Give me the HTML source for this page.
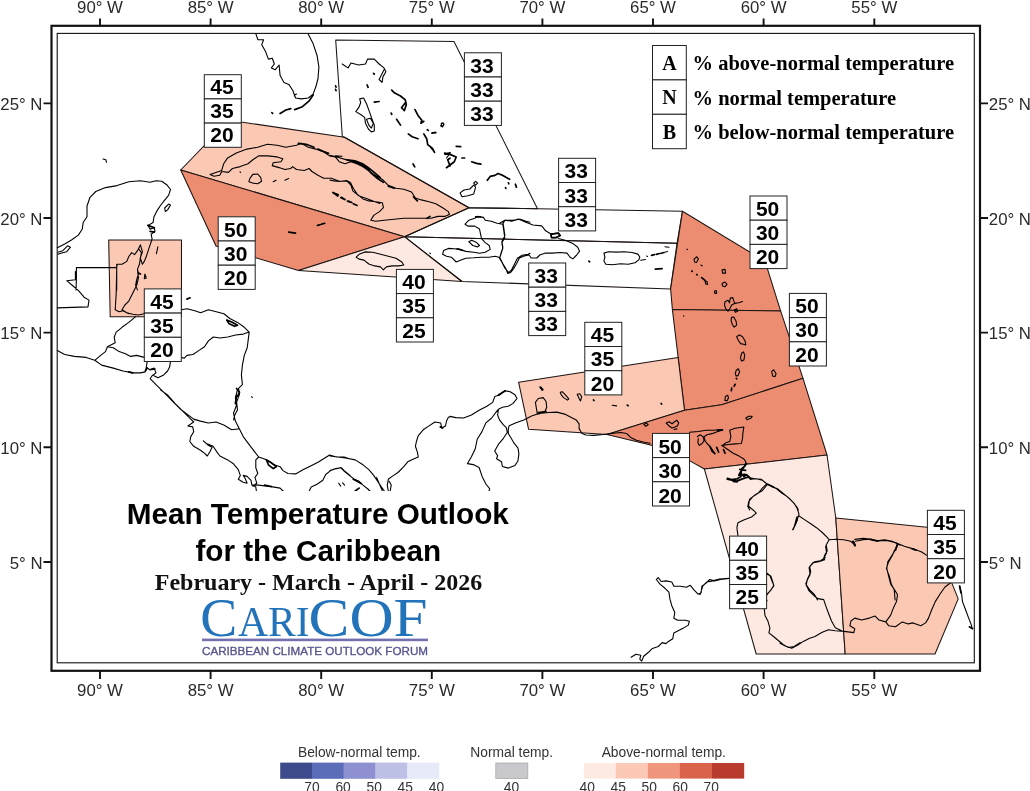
<!DOCTYPE html><html><head><meta charset="utf-8"><title>Mean Temperature Outlook for the Caribbean</title>
<style>html,body{margin:0;padding:0;background:#fff}svg{display:block}text{font-family:"Liberation Sans",Arial,sans-serif}.sl{font-family:"Liberation Serif","Times New Roman",serif;font-weight:normal;fill:#2273B9}.s{font-family:"Liberation Serif","Times New Roman",serif;font-weight:bold}.ax{font-size:16.8px;fill:#2a2a2a}.n{font-size:21px;font-weight:bold;text-anchor:middle;fill:#000}.lg{font-size:13.8px;fill:#333}.c{fill:none;stroke:#000;stroke-width:1.1;stroke-linejoin:round;stroke-linecap:round}.p{stroke:#1c1412;stroke-width:1.05;stroke-linejoin:round}.b{fill:#fff;stroke:#222;stroke-width:1}</style></head><body>
<svg width="1030" height="791" viewBox="0 0 1030 791">
<rect width="1030" height="791" fill="#fff"/>
<polygon class="p" fill="#FBC8B4" points="180.7,170.0 229.0,120.2 344.5,137.3 469.0,207.7 404.5,236.7"/>
<polygon class="p" fill="#EC8D71" points="180.7,170.0 404.5,236.7 298.5,270.5 216.0,246.0"/>
<polygon class="p" fill="#FDE9E1" points="404.5,236.7 462.0,281.5 298.5,270.5"/>
<polygon class="p" fill="#FBC8B4" points="108.7,240.0 181.5,240.0 181.5,316.7 110.2,316.7"/>
<polygon class="p" fill="none" points="335.7,40.1 454.0,41.4 537.5,208.8 469.0,207.7 344.5,137.3 342.3,136.5"/>
<polygon class="p" fill="none" points="469.0,207.7 537.5,208.8 682.5,211.2 677.0,243.3 404.5,236.7"/>
<polygon class="p" fill="none" points="404.5,236.7 677.0,243.3 670.6,288.9 462.0,281.5"/>
<polygon class="p" fill="#EC8D71" points="682.5,211.2 765.1,261.3 780.6,310.9 672.4,309.6 670.6,288.9"/>
<polygon class="p" fill="#EC8D71" points="672.4,309.6 780.6,310.9 803.0,378.3 721.6,404.7 684.5,410.3"/>
<polygon class="p" fill="#FBC8B4" points="518.6,382.2 678.1,357.4 684.5,410.3 607.0,434.5 528.6,429.3"/>
<polygon class="p" fill="#EC8D71" points="607.0,434.5 684.5,410.3 721.6,404.7 803.0,378.3 827.0,455.0 704.4,469.0 689.5,460.6 652.5,445.5"/>
<polygon class="p" fill="#FDE9E1" points="704.4,469.0 827.0,455.0 835.8,518.0 845.2,654.0 756.2,654.0"/>
<polygon class="p" fill="#FBC8B4" points="835.8,518.0 929.5,527.5 958.2,598.9 935.0,654.0 845.2,654.0"/>
<path class="c" d="M255.8,33.5 L257.8,39.7 L263.6,39.7 L261.7,44.6 L265.5,51.4 L268.4,59.1 L272.3,58.2 L274.3,64.0 L271.4,67.9 L275.2,69.8 L279.1,65.0 L280.1,75.6 L284.0,82.4 L288.8,84.4 L292.7,90.2 L295.6,98.0 L301.5,98.9 L308.3,98.0 L313.1,94.1 L316.0,86.3 L318.0,78.5 L318.9,66.9 L317.0,55.2 L313.1,43.6 L307.9,33.5M295.6,98.0 L294.3,95.0 L296.6,94.1M342.2,64.0 L348.1,67.9 L351.0,63.0 L358.7,65.0 L365.5,64.0 L367.5,59.1 L374.3,59.1 L379.1,64.0 L384.0,67.9 L385.9,71.7 L383.0,76.6 L382.0,82.4 L379.1,79.5 L384.0,69.8M359.7,98.9 L363.6,98.0 L366.5,103.8 L369.4,111.6 L371.4,117.4 L374.3,125.1 L374.3,131.0 L371.4,131.9 L368.4,129.0 L365.5,123.2 L364.6,117.4 L360.7,114.5 L355.8,111.6 L358.7,107.7 L360.7,102.8 ZM366.5,119.3 L370.4,118.3 L373.3,123.2 L371.4,128.1 L368.8,125.1 L366.5,119.3M441.3,123.2 L443.2,122.8 L443.8,125.1 L441.8,126.5 ZM440.7,125.9 L442.0,123.0 L444.0,124.0 L442.6,126.9 ZM449.4,154.1 L446.5,158.0M460.1,192.9 L464.0,190.0 L469.8,189.0 L473.7,185.1 L475.6,187.1 L473.7,193.9 L467.9,195.8 L462.0,196.8 ZM473.7,183.2 L475.6,181.3 L477.6,183.2 L475.6,185.1 ZM210.1,174.4 L215.9,172.4 L221.7,170.5 L223.7,163.7 L227.6,157.9 L236.3,153.0 L247.0,149.1 L257.7,147.2 L267.4,144.3 L277.1,145.2 L285.8,147.2 L296.5,145.2 L301.4,143.3 L308.2,147.2 L315.9,149.1 L323.7,152.0 L329.5,155.9 L335.3,156.9 L339.2,161.7 L345.0,163.7 L350.9,161.7 L356.7,163.7 L362.5,166.6 L368.3,170.5 L374.2,175.3 L380.0,180.2M210.1,174.4 L214.0,176.3 L219.8,175.3 L221.7,171.5 L228.5,172.4 L232.4,168.5 L240.2,166.6 L248.0,163.7 L252.8,159.8 L258.6,155.9 L267.4,155.9 L277.1,156.9 L282.9,158.8 L281.0,161.7 L273.2,162.7 L272.2,165.6 L279.0,167.6 L284.9,169.5 L290.7,168.5 L292.6,166.6 L296.5,169.5 L304.3,170.5 L309.1,168.5 L312.0,171.5 L317.9,175.3 L323.7,178.3 L331.5,178.3 L339.2,181.2 L347.0,181.2 L350.9,185.0 L352.8,190.9 L358.6,195.7 L366.4,198.6 L374.2,201.6 L380.0,203.5M249.9,178.3 L252.8,174.4 L257.7,174.0 L260.6,177.3 L261.6,181.2 L257.7,183.7 L252.8,183.1 L248.9,181.7 ZM273.2,181.7 L276.1,180.2M284.9,180.2 L288.7,178.6M240.0,171.8 L240.6,172.4M335.3,155.9 L342.1,156.3M330.0,155.2 L337.8,157.2 L347.5,160.1 L355.2,162.0 L363.0,165.9 L368.8,170.8 L375.6,175.6 L382.4,179.5 L388.3,185.3 L396.0,188.3 L403.8,189.2 L411.6,192.1 L415.4,198.0 L421.3,199.9 L429.0,201.8 L435.8,203.8 L442.6,207.7 L448.4,211.6 L449.4,214.5 L444.6,216.4 L437.8,216.4 L431.0,218.3 L423.2,218.3 L413.5,218.3 L403.8,218.3 L394.1,219.3 L384.4,220.3 L375.6,221.3 L370.8,220.3 L373.7,215.4 L379.5,211.6 L383.4,207.7 L382.4,202.8 L375.6,201.8 L368.8,200.9 L363.0,198.9 L357.2,194.1 L353.3,188.3 L350.4,182.4 L346.5,180.5 L339.7,181.5 L333.9,180.9 L330.0,180.1M356.2,257.2 L359.1,254.3 L365.0,251.9 L372.7,252.3 L380.5,254.3 L388.3,256.2 L396.0,258.2 L401.8,262.0 L403.8,265.0 L398.9,265.9 L392.1,265.9 L386.3,266.9 L383.4,269.8 L380.5,266.9 L374.7,265.9 L368.8,264.0 L364.0,260.1 L359.1,259.1 ZM530.0,222.2 L526.1,221.3 L520.3,219.3 L512.5,220.3 L504.8,220.3 L502.8,224.2 L497.0,223.2 L491.2,221.3 L485.3,220.3 L483.4,217.4 L477.6,216.4 L474.7,218.3 L468.8,220.3 L465.0,224.2 L467.9,226.1 L474.7,226.1 L479.5,229.0 L480.5,233.9 L481.5,238.7 L485.3,242.6 L489.2,245.5 L490.2,249.4 L485.3,252.3 L479.5,253.3 L473.7,252.3 L465.9,251.4 L459.1,249.4 L454.3,248.8 L448.4,248.4 L443.6,250.4 L442.6,254.3 L446.5,256.2 L451.4,257.2 L456.2,262.0 L461.1,260.1 L465.9,258.2 L473.7,257.8 L481.5,257.2 L489.2,257.2 L495.0,256.2 L498.9,257.2 L501.8,262.0 L504.8,267.9 L508.6,272.7 L511.6,269.8 L514.5,264.0 L517.4,258.2 L522.2,255.2 L528.1,254.3 L530.0,253.3M468.8,241.7 L471.7,240.3 L476.6,242.6 L479.5,245.5 L477.6,246.9 L472.7,245.5 ZM502.8,224.2 L503.8,231.0 L504.8,237.8 L501.8,242.6 L502.8,248.4 L500.9,254.3 L499.9,257.2M429.8,253.1 L430.4,253.7M500.0,223.0 L504.9,220.1 L511.7,221.1 L518.4,219.1 L525.2,222.0 L533.0,225.0 L541.7,225.9 L545.6,230.8 L550.5,233.7 L558.3,233.1 L560.2,235.6 L556.3,237.6 L551.5,237.6 L550.9,234.7M558.3,238.5 L566.0,240.5 L572.8,243.4 L577.7,247.3 L579.6,251.2 L576.7,255.0 L572.8,258.9 L569.9,257.0 L567.0,253.1 L560.2,252.5 L552.4,253.1 L545.6,253.1 L539.8,255.0 L536.9,258.0 L531.1,258.0 L529.1,255.0 L524.3,256.0 L519.4,258.0 L516.5,263.8 L513.6,268.6 L510.7,272.5 L507.8,273.5 L505.8,268.6 L502.9,263.8 L500.0,258.0M502.9,222.0 L503.9,228.8 L504.9,235.6 L501.9,241.5 L502.9,247.3 L501.0,253.1 L500.0,257.0M603.9,253.1 L608.7,251.7 L616.5,252.1 L624.3,251.7 L632.0,252.5 L637.9,254.1 L639.8,257.0 L638.8,259.9 L635.0,262.8 L628.2,264.2 L620.4,263.8 L612.6,264.8 L605.8,264.2 L603.9,260.9 L604.9,257.0 ZM640.8,260.3 L645.6,259.5M646.6,256.0 L647.6,256.4M665.4,252.1 L667.4,251.4M665.0,246.7 L668.9,247.3M694.0,259.1 L696.9,256.8 L698.4,259.1 L696.5,262.6 L694.6,262.0 ZM687.0,249.2 L687.4,249.6M700.8,265.0 L702.3,265.9M705.0,280.9 L707.0,281.5 L707.6,284.4 L705.8,284.0 ZM722.1,269.8 L725.0,269.4 L725.6,273.1 L722.5,273.1 ZM722.1,283.4 L725.0,282.0 L727.0,284.4 L725.0,286.7 L722.5,285.9 ZM714.4,291.2 L716.3,290.6 L716.7,293.1 L714.8,293.5 ZM725.0,301.8 L728.0,300.3 L729.5,302.8 L730.3,298.0 L732.8,297.6 L733.8,300.9 L734.8,303.4 L731.8,304.8 L730.3,307.7 L728.0,311.2 L725.6,308.6 L724.5,304.8 ZM734.8,303.4 L738.6,302.8 L742.5,301.5M734.4,310.0 L736.7,308.8 L737.7,311.2 L735.3,312.3 ZM683.5,315.8 L683.9,316.2M731.5,317.4 L733.8,317.0 L736.1,321.3 L736.7,325.1 L734.2,327.1 L732.2,324.2 L731.1,320.3 ZM736.7,336.4 L739.6,334.9 L742.5,336.8 L745.0,340.7 L745.8,345.0 L743.5,344.2 L740.6,343.6 L738.6,340.7 L737.3,338.3 ZM741.6,353.3 L743.5,351.9 L744.7,355.2 L743.9,360.1 L741.6,361.1 L740.4,357.8 ZM736.3,370.2 L738.3,368.8 L739.6,371.7 L738.1,375.6 L736.1,376.0 L735.3,373.3 ZM771.7,371.4 L773.6,369.8 L776.1,373.7 L775.0,376.6 L772.6,376.0 ZM725.4,396.5 L727.8,395.3 L728.5,397.9 L727.0,400.8 L724.9,400.4 ZM745.8,417.9 L748.7,416.3 L752.2,416.3 L750.7,418.3 L747.2,419.8 ZM729.7,430.3 L735.1,428.3 L743.9,427.0 L742.9,432.8 L742.5,438.6 L741.4,443.5 L735.1,443.9 L728.3,444.5 L722.5,445.4 L725.4,443.1 L729.7,441.6 L730.9,436.7 ZM666.2,423.1 L669.1,421.7 L672.0,423.7 L674.6,421.7 L676.9,420.2 L678.8,423.1 L677.3,426.0 L675.0,427.0 L672.0,428.0 L669.1,426.0 ZM674.0,429.5 L676.9,428.9M643.9,424.5 L646.2,423.1 L648.2,424.5 L645.8,426.4 ZM689.5,432.2 L698.3,431.5 L706.0,430.3 L713.8,430.3 L720.6,429.5 L722.5,430.3 L717.7,431.5 L712.8,433.4 L707.0,434.8 L704.1,436.7 L705.0,440.6 L707.0,443.5 L709.9,446.4 L712.8,450.3 L714.8,453.2M697.3,436.7 L700.2,434.8 L703.1,436.7 L704.1,440.6 L702.1,443.5 L699.2,445.4 L697.9,442.5 L698.3,438.6M721.6,445.4 L727.4,449.3 L733.2,453.2 L739.0,456.1 L743.9,459.0 L745.8,461.9 L744.9,465.8M748.7,477.5 L754.6,478.8 L761.4,479.4 L766.2,483.3 L772.0,486.2 L776.9,489.1 L781.7,493.0 L787.6,496.9 L793.4,502.7 L797.3,507.6 L798.3,509.9M766.2,484.3 L762.3,488.2 L758.4,493.0 L752.6,496.9 L748.7,501.7 L747.8,506.6 L749.7,509.9M450.0,416.4 L455.8,417.6 L463.6,418.0 L471.4,415.0 L479.1,410.2 L486.9,406.3 L492.7,402.4 L494.7,396.6 L499.5,395.0 L504.4,390.8 L510.2,391.7 L515.0,394.7 L517.0,398.5 L513.1,403.4 L508.3,406.3 L502.4,407.3 L498.5,409.2 L497.6,415.0 L499.5,419.9 L503.4,424.8 L506.3,427.7 L507.3,432.5 L503.4,438.3 L498.5,444.2 L494.7,451.0 L497.6,455.8 L496.6,458.7 L501.5,461.7 L502.4,466.5 L508.3,468.1 L515.0,465.5 L518.0,460.7 L518.9,453.9 L518.0,448.1 L514.1,443.2 L511.2,438.3 L508.3,433.5 L508.3,428.6 L509.2,425.7 L516.0,422.8 L523.8,419.9 L531.6,416.0 L537.4,414.1 L536.4,408.3 L535.4,402.4 L538.3,398.5 L543.2,397.6 L546.1,401.5 L546.7,407.3 L545.1,411.2 L541.3,413.1 L549.0,412.5 L556.8,412.1 L564.6,414.1 L570.4,417.0 L576.2,419.9 L579.1,423.8 L579.1,428.6 L582.0,433.5 L585.9,435.0 L593.7,435.4 L603.4,434.5 L611.2,433.5 L620.9,432.5 L626.7,433.5 L630.6,437.4 L636.4,440.3 L644.2,442.2 L650.0,443.2M537.4,414.1 L541.3,413.1M497.6,410.2 L491.7,418.0 L485.9,422.8 L482.0,431.6 L477.2,439.3 L475.2,449.0 L471.4,456.8 L467.5,463.6 L473.3,464.6 L479.1,467.5 L482.0,476.2 L485.9,484.0 L489.8,488.8 L488.8,491.4M539.7,386.9 L541.3,387.3 L543.2,389.8 L542.2,390.4 ZM560.3,392.3 L562.2,391.7 L566.1,395.6 L568.8,398.9 L567.5,400.1 L563.6,397.6 L561.1,394.7 ZM577.2,394.3 L579.7,393.7 L581.7,396.6 L580.5,400.9 L579.1,398.5 ZM612.1,405.3 L616.6,405.9M57.3,247.8 L64.7,243.9 L71.5,240.0 L78.3,235.1 L82.2,229.3 L83.2,222.5 L87.0,216.7 L87.0,206.0 L90.0,197.3 L95.8,191.5 L105.5,187.6 L117.1,185.6 L128.8,181.7 L140.4,180.8 L150.1,182.3 L156.0,180.8 L161.8,181.2 L166.7,184.7 L170.5,189.5 L168.6,195.3 L164.7,200.2 L160.8,205.0 L156.9,210.9 L154.0,216.7 L153.1,222.5 L148.2,225.4 L150.1,229.3 L154.0,227.4 L155.0,231.3 L151.1,234.2 L152.1,239.0 L150.1,244.9 L148.2,250.7 L146.3,256.5 L144.3,261.4 L142.4,264.3 L140.4,258.4 L141.4,252.6 L138.5,248.7 L140.4,244.9 L137.5,250.7 L134.6,254.6 L131.7,252.6 L128.8,256.5 L126.8,261.4 L122.0,264.3 L117.1,264.3 L116.7,268.2M164.7,208.0 L168.6,204.1 L170.5,205.0 L167.6,209.9 L165.3,211.5 ZM103.0,159.0 L105.9,159.8 L106.5,162.3M57.9,252.2 L62.8,250.7 L67.6,245.8 L70.5,247.2 L66.7,251.7 L61.8,253.0 L57.9,254.2M140.4,244.9 L142.4,251.7 L140.4,257.5 L139.5,264.3 L137.5,269.1 L138.5,274.0 L136.6,279.8 L135.6,285.6 L137.5,289.9M157.9,246.8 L156.4,253.6M144.9,274.0 L146.3,277.9 L144.3,278.8 ZM116.7,267.6 L76.4,267.6 L76.4,279.8 L76.0,289.9M116.7,264.3 L116.7,289.9M75.4,271.6 L75.4,279.7 L66.7,280.7 L72.5,285.5 L78.3,290.4 L84.1,297.2 L89.0,300.1 L88.0,306.9 L57.3,307.9M57.3,350.6 L64.7,354.5 L74.4,356.4 L86.1,357.4 L94.8,360.3 L101.6,365.1 L113.3,368.1 L123.0,371.0 L132.7,372.9 L140.4,372.9 L145.3,371.9 L146.3,367.1 L150.1,370.0 L154.0,368.1 L156.0,372.9 L152.1,375.8 L150.1,378.7 L156.0,384.6 L161.8,390.4 L167.6,396.2 L173.4,402.0 L181.2,409.8 L189.0,415.6 L194.8,419.9M116.7,270.0 L116.2,293.3 L115.2,309.8 L119.1,311.7 L123.0,310.8 L128.8,313.7M137.5,270.0 L138.5,277.8 L136.6,285.5 L132.7,293.3 L128.8,301.1 L124.9,305.0 L122.0,309.8 L126.8,312.7 L132.7,314.3 L138.5,315.0 L144.3,313.7M135.6,316.6 L128.8,322.4 L122.0,327.3 L116.2,332.1 L114.2,337.0 L115.2,342.8 L107.4,346.7 L105.5,351.6 L100.6,355.4 L94.8,360.3M107.4,346.7 L113.3,347.7 L119.1,351.6 L124.9,353.5 L130.7,356.4 L136.6,355.4 L144.3,357.4 L147.2,361.3 L146.3,367.1M181.2,309.8 L187.0,308.8 L194.8,310.8 L200.6,312.7 L208.4,309.8 L216.2,311.7 L223.9,313.7 L229.8,318.5 L237.5,322.4 L244.3,327.3 L249.2,332.1 L248.2,339.9 L247.2,347.7 L244.3,355.4 L242.4,365.1 L241.4,374.9 L242.4,384.6 L238.5,388.4 L239.5,394.3 L236.6,402.0 L237.5,409.8 L234.6,415.6 L233.6,419.9M249.2,332.1 L243.3,334.1 L235.6,335.0 L227.8,337.0 L220.0,338.0 L213.3,337.0 L208.4,340.9 L204.5,346.7 L198.7,350.6 L192.9,354.5 L187.0,355.4 L184.1,358.3 L181.2,357.4 L175.4,359.3 L170.5,361.3 L169.6,367.1 L167.6,371.0 L163.7,374.9 L157.9,377.8 L154.0,375.8M251.9,397.0 L252.3,397.6M160.7,390.0 L167.5,394.9 L175.2,403.6 L183.0,411.4 L189.8,418.2 L193.7,422.0 L187.9,425.9 L192.7,426.9 L193.7,431.7 L190.8,436.6 L189.8,441.5 L193.7,446.3 L200.5,450.2 L204.4,453.1 L207.3,456.0 L210.2,451.2 L212.1,447.3 L208.3,445.3 L203.4,440.9 L206.3,443.4 L213.1,446.3 L217.0,452.1 L219.9,456.0 L227.7,459.9 L233.5,463.8 L238.3,469.6 L240.3,475.4 L238.3,479.3 L243.2,482.2 L247.1,483.2 L245.1,478.3 L243.2,475.4 L247.1,476.4 L251.0,480.3 L251.9,485.1 L255.8,487.1 L256.4,491.0M193.7,419.1 L200.5,421.1 L208.3,423.0 L216.0,422.0 L223.8,425.0 L231.6,429.8 L239.3,428.8M237.4,390.0 L235.4,397.8 L236.4,405.5 L233.5,413.3 L235.4,421.1 L239.3,428.8 L243.2,436.6 L249.0,444.4 L254.9,452.1 L258.7,457.0 L264.6,458.9 L268.4,460.9 L274.3,464.8 L280.1,466.7 L283.0,470.6 L287.9,473.5 L295.6,473.9 L303.4,469.6 L311.2,465.7 L318.9,461.8 L324.8,458.0 L329.6,455.0 L336.4,457.0 L344.2,457.0 L350.0,458.9M258.7,457.0 L255.8,459.9 L255.8,467.7 L257.8,473.5 L254.9,477.4 L256.8,483.2 L252.9,486.1M251.9,485.1 L258.7,485.1 L266.5,486.1 L274.3,487.1 L280.1,488.1 L283.0,491.0M309.2,491.0 L311.2,487.1 L317.0,484.2 L322.8,480.3 L325.7,474.5 L330.6,470.6 L336.4,468.6 L341.3,467.7 L344.2,470.6 L350.0,475.4M251.7,396.6 L252.1,397.2M330.0,456.0 L337.8,457.0 L345.5,458.0 L355.2,459.9 L363.0,464.8 L368.8,469.6 L373.7,475.4 L377.6,481.3 L381.5,487.1 L384.4,491.0M330.0,470.6 L335.8,468.6 L340.7,467.7 L344.6,471.6 L349.4,475.4 L354.3,479.3 L359.1,481.3 L363.0,485.1 L367.9,489.0 L369.8,491.0M376.6,477.4 L379.5,484.2 L382.4,491.0M388.3,491.0 L387.3,485.1 L388.3,479.3 L392.1,476.4 L398.0,472.5 L403.8,466.7 L407.7,461.8 L413.5,458.9 L418.3,457.0 L417.4,452.1 L415.4,446.3 L416.4,441.5 L418.3,435.6 L423.2,429.8 L429.0,425.9 L434.9,422.0 L440.7,423.0 L441.7,427.9 L445.5,425.9 L446.5,421.1 L448.4,417.2 L450.4,416.6M390.2,491.0 L391.2,485.1 L389.2,481.3M338.7,483.2 L340.7,486.1M342.6,482.8 L344.6,485.1M750.5,479.1 L756.3,478.7 L762.1,480.1 L767.0,484.0 L772.8,486.9 L777.7,488.8 L783.5,493.7 L789.3,498.5 L794.2,503.4 L797.1,508.3 L799.0,514.1 L798.1,517.0 L796.1,522.8 L793.2,529.6M799.0,516.0 L804.9,519.9 L810.7,523.8 L816.5,527.7 L822.3,532.5 L827.2,537.4 L829.1,539.7 L835.9,539.3 L843.7,539.7 L850.5,541.3 L855.3,545.1M855.3,541.3 L863.1,539.7 L870.9,539.3 L876.7,540.9 L884.5,539.7 L892.2,541.3 L898.1,544.2 L900.0,545.1M767.0,485.0 L762.1,490.8 L755.3,494.7 L749.5,499.5 L748.5,506.3 L753.4,510.2 L756.3,513.1 L751.5,517.0 L743.7,519.9 L737.9,522.8 L736.9,527.7 L737.9,535.4M829.1,539.7 L826.2,545.1 L827.2,551.0 L824.3,555.8 L825.2,557.8 L820.4,560.7 L814.6,561.7 L809.7,566.5 L810.7,572.3 L807.8,578.2 L805.8,584.0 L809.7,589.8 L814.6,594.7 L817.5,599.9M898.1,544.2 L894.2,551.0 L892.2,555.8 L888.3,562.6 L886.4,568.4 L889.3,576.2 L891.3,584.0 L894.2,589.8 L895.1,599.9M700.0,594.7 L702.9,585.9 L706.8,582.0 L711.7,581.1 L719.4,579.1 L729.1,578.2M767.0,573.3 L770.9,576.2 L772.8,582.0 L773.8,585.9 L770.9,589.8 L767.0,594.7M927.6,555.9 L921.7,552.0 L914.0,549.1 L904.3,546.2 L896.5,542.9 L886.8,540.4 L877.1,541.0 L871.3,539.4 L863.5,538.4 L854.8,539.4M792.6,529.7 L795.5,523.9 L797.5,520.0M825.6,546.2 L826.6,553.0 L823.7,557.9 L824.7,559.8 L818.8,561.7 L813.0,562.7 L809.1,567.6 L810.1,574.4 L807.2,580.2 L806.2,585.0 L809.1,590.9 L814.0,595.7 L817.9,598.6 L823.7,599.6 L825.6,605.4 L828.5,613.2 L831.5,621.0 L835.3,627.8 L842.1,631.1M897.5,544.3 L894.6,551.1 L891.7,555.9 L887.8,561.7 L886.8,568.5 L888.7,576.3 L890.7,584.1 L894.6,589.9 L897.5,594.8 L896.5,601.6 L893.6,607.4 L890.7,615.1 L885.8,621.9M842.1,631.1 L853.8,632.6 L854.8,628.7 L849.9,625.8 L850.9,621.0 L854.8,618.1 L861.6,620.0 L869.3,618.1 L875.1,616.1 L879.0,620.0 L885.8,621.9 L888.7,625.8 L895.5,626.8 L902.3,621.9 L908.2,623.9 L913.0,622.9 L920.8,625.8 L925.6,622.9 L928.5,618.1 L931.5,610.3 L935.3,601.6 L940.2,593.8 L945.0,587.0 L950.9,582.5M842.1,631.1 L835.3,630.7 L828.5,629.7 L821.7,632.6 L815.0,636.5 L809.1,638.4 L803.3,641.4 L797.5,645.2 L791.7,648.2 L785.8,646.2 L780.0,643.3M959.6,586.0 L961.6,593.8 L962.5,601.6 L965.4,609.3 L968.3,617.1 L971.3,624.9 L972.2,628.7M729.1,578.5 L720.4,579.5 L714.6,580.9 L709.7,579.5 L705.8,583.4 L701.9,586.3 L701.0,593.1 L698.1,594.1 L694.2,590.2 L690.3,585.3 L686.4,587.3 L680.6,586.3 L673.8,586.3 L671.8,582.0 L666.0,580.9 L661.2,581.5 L658.3,577.6 L656.3,579.5 L660.2,584.4 L665.0,588.3 L668.9,592.1 L669.9,598.9 L671.8,605.7 L674.8,612.5 L673.8,618.3 L677.7,620.3 L685.4,620.3 L689.3,621.3 L688.3,625.1 L683.5,628.1 L677.7,631.0 L673.8,632.9 L672.8,638.7 L668.0,641.7 L666.0,643.6 L662.1,642.6 L658.3,646.5 L652.4,648.4 L648.5,652.3 L643.7,656.2 L641.7,661.1 L639.8,659.1 L640.8,655.2 L635.9,654.3 L631.1,657.2M766.0,573.7 L769.9,575.6 L771.8,580.5 L773.8,585.3 L770.9,590.2 L767.0,594.1 L766.0,598.0 L767.0,600.9M764.1,607.7 L765.0,615.4 L768.0,621.3 L769.9,628.1 L768.9,632.9 L773.8,636.8 L778.6,640.7 L783.5,644.6 L788.3,647.5 L794.2,646.5 L800.0,642.6"/>
<path class="c" style="stroke-width:1.7" d="M280.1,113.5 L285.9,110.0 L290.8,108.6M294.7,109.6 L302.4,106.7 L309.2,100.9 L313.1,95.0M271.9,112.7 L272.7,113.5M373.5,73.3 L374.3,74.1M367.1,85.0 L368.1,87.3M335.6,85.9 L336.0,87.1M335.6,89.4 L336.0,90.6M374.3,102.2 L379.1,101.5M391.7,90.2 L394.7,93.1 L400.5,96.0 L405.3,99.9 L406.3,104.8 L404.4,110.6 L401.5,107.7 L405.3,102.8M415.0,109.6 L418.0,115.4 L421.8,120.3 L420.9,123.2 L423.8,121.3M408.3,133.9 L412.1,136.8 L418.0,138.7M391.2,113.1 L391.7,114.3M396.6,119.3 L400.5,125.1M423.8,133.9 L426.7,138.7 L427.7,144.6 L432.5,148.4 L434.5,152.3M427.3,129.6 L428.3,130.4M432.5,132.9 L435.4,132.5M445.1,154.3 L450.0,152.7M450.0,158.2 L447.7,159.7 L450.0,165.9M413.1,164.0 L414.7,166.9M431.9,133.1 L435.8,132.7M430.0,146.3 L433.9,151.2M456.2,146.3 L460.7,146.7M444.6,153.1 L449.4,154.1 L456.2,157.0 L454.3,161.8 L446.5,167.7M462.0,158.0 L464.6,158.0M471.7,161.8 L476.6,163.4 L480.9,164.2M487.3,180.3 L490.2,176.4 L495.0,175.4 L498.0,173.5 L502.8,175.4 L507.7,178.3 L509.6,179.3M508.4,182.8 L508.8,183.8M505.5,187.7 L505.9,188.4M515.4,184.2 L516.4,187.1M333.4,192.8 L338.3,194.8M341.2,197.3 L345.0,199.6M348.9,201.2 L351.8,202.5M353.8,203.9 L357.1,205.4M298.4,143.3 L306.2,144.3 L314.0,147.2M317.9,149.1 L323.7,151.5 L328.5,153.4M347.0,159.8 L354.8,160.8 L362.5,163.7 L368.3,167.6 L374.2,172.4 L380.0,177.3M288.7,232.2 L295.5,233.2M317.5,225.4 L320.2,224.7M321.7,224.1 L324.7,223.3M347.5,160.1 L355.2,161.1 L361.1,164.0 L366.9,167.9 L371.7,173.7 L377.6,178.5 L383.4,182.4M388.3,186.3 L394.1,188.3M413.5,197.0 L417.4,200.9M427.1,218.3 L430.0,216.4M332.9,192.5 L337.8,196.0M340.7,197.6 L344.6,199.5M347.5,201.1 L350.4,202.2M353.3,203.8 L356.2,205.0M475.6,216.8 L480.5,217.0M457.2,248.8 L462.0,250.0M550.9,234.3 L558.3,233.1 L560.2,235.6 L556.3,237.6 L551.5,237.6 L550.9,234.3M588.9,261.1 L589.7,261.8M651.5,255.4 L654.4,254.7M656.3,254.3 L659.6,253.5M661.2,253.3 L664.1,252.5M655.3,269.2 L662.1,268.6M691.8,271.0 L692.2,271.4M696.7,274.5 L697.1,274.9M701.7,277.6 L704.7,280.1M736.3,378.3 L736.7,378.8M735.1,384.3 L734.2,386.2M731.7,388.2 L731.3,390.7M661.2,403.5 L661.6,404.1M717.7,430.3 L722.5,429.9M709.9,446.4 L712.2,451.3 L714.8,453.6M716.7,447.4 L718.6,452.2M723.5,449.7 L725.0,453.2M744.9,465.8 L741.9,468.7 L741.0,473.6 L743.9,476.5 L746.8,474.6 L748.7,477.5M727.4,478.4 L731.3,479.6 L737.1,478.8 L741.0,476.5M733.2,481.4 L737.1,481.9M498.5,395.0 L505.3,390.8M538.3,412.5 L546.1,411.7M593.5,399.9 L593.9,400.5M627.3,405.1 L628.1,405.7M147.8,225.4 L154.4,227.8M150.1,231.3 L154.4,232.2M138.5,273.0 L140.4,274.0M128.8,371.9 L132.7,372.9M145.3,371.0 L147.2,368.1M151.1,369.4 L155.0,369.0M226.8,320.1 L231.7,322.0 L237.5,325.3 L234.6,326.3 L228.8,323.4 L226.8,320.1M236.6,388.4 L239.5,392.3 L237.5,396.2M187.0,299.1 L190.0,297.8M236.4,395.8 L235.4,403.6M266.5,459.9 L271.4,462.8 L276.2,466.7 L273.3,468.6 L268.4,464.8 L266.5,459.9M264.6,485.1 L271.4,486.5M353.3,479.3 L357.2,481.3 L361.1,483.6M355.2,491.0 L359.1,488.1M440.3,426.9 L442.6,427.9M746.6,463.6 L743.7,467.5 L740.8,471.4 L738.8,475.2 L744.7,474.3 L748.5,476.2 L750.5,479.1M727.2,479.1 L732.0,480.1 L736.9,481.1 L741.7,479.1 L747.6,477.2M739.8,469.4 L745.6,470.4M853.4,541.3 L855.3,545.5M797.1,517.0 L795.1,524.8M768.0,484.6 L773.8,487.3M870.9,539.7 L877.1,540.9M852.8,541.4 L854.8,545.6M870.3,539.4 L878.1,541.0M912.0,548.7 L915.9,550.1M897.5,544.3 L895.5,550.1M959.6,586.0 L961.0,592.8M969.3,626.8 L972.6,628.7"/>
<rect x="58" y="491" width="570" height="171.5" fill="#fff"/>
<rect x="51.5" y="25.8" width="928.5" height="645" fill="none" stroke="#111" stroke-width="2.2"/>
<rect x="57.2" y="33.4" width="917.1" height="629.4" fill="none" stroke="#111" stroke-width="1.1"/>
<path d="M100 18.5V25.8M100 670.8V679" stroke="#111" stroke-width="1.9"/>
<text class="ax" x="100" y="13.1" text-anchor="middle">90° W</text>
<text class="ax" x="100" y="696" text-anchor="middle">90° W</text>
<path d="M210.6 18.5V25.8M210.6 670.8V679" stroke="#111" stroke-width="1.9"/>
<text class="ax" x="210.6" y="13.1" text-anchor="middle">85° W</text>
<text class="ax" x="210.6" y="696" text-anchor="middle">85° W</text>
<path d="M321.2 18.5V25.8M321.2 670.8V679" stroke="#111" stroke-width="1.9"/>
<text class="ax" x="321.2" y="13.1" text-anchor="middle">80° W</text>
<text class="ax" x="321.2" y="696" text-anchor="middle">80° W</text>
<path d="M431.8 18.5V25.8M431.8 670.8V679" stroke="#111" stroke-width="1.9"/>
<text class="ax" x="431.8" y="13.1" text-anchor="middle">75° W</text>
<text class="ax" x="431.8" y="696" text-anchor="middle">75° W</text>
<path d="M542.4 18.5V25.8M542.4 670.8V679" stroke="#111" stroke-width="1.9"/>
<text class="ax" x="542.4" y="13.1" text-anchor="middle">70° W</text>
<text class="ax" x="542.4" y="696" text-anchor="middle">70° W</text>
<path d="M653 18.5V25.8M653 670.8V679" stroke="#111" stroke-width="1.9"/>
<text class="ax" x="653" y="13.1" text-anchor="middle">65° W</text>
<text class="ax" x="653" y="696" text-anchor="middle">65° W</text>
<path d="M763.6 18.5V25.8M763.6 670.8V679" stroke="#111" stroke-width="1.9"/>
<text class="ax" x="763.6" y="13.1" text-anchor="middle">60° W</text>
<text class="ax" x="763.6" y="696" text-anchor="middle">60° W</text>
<path d="M874.3 18.5V25.8M874.3 670.8V679" stroke="#111" stroke-width="1.9"/>
<text class="ax" x="874.3" y="13.1" text-anchor="middle">55° W</text>
<text class="ax" x="874.3" y="696" text-anchor="middle">55° W</text>
<path d="M43.5 103.4H51.5M980 103.4H988" stroke="#111" stroke-width="1.9"/>
<text class="ax" x="42.5" y="110.0" text-anchor="end">25° N</text>
<text class="ax" x="988.8" y="110.0">25° N</text>
<path d="M43.5 218H51.5M980 218H988" stroke="#111" stroke-width="1.9"/>
<text class="ax" x="42.5" y="224.6" text-anchor="end">20° N</text>
<text class="ax" x="988.8" y="224.6">20° N</text>
<path d="M43.5 332.6H51.5M980 332.6H988" stroke="#111" stroke-width="1.9"/>
<text class="ax" x="42.5" y="339.2" text-anchor="end">15° N</text>
<text class="ax" x="988.8" y="339.2">15° N</text>
<path d="M43.5 447.3H51.5M980 447.3H988" stroke="#111" stroke-width="1.9"/>
<text class="ax" x="42.5" y="453.9" text-anchor="end">10° N</text>
<text class="ax" x="988.8" y="453.9">10° N</text>
<path d="M43.5 562H51.5M980 562H988" stroke="#111" stroke-width="1.9"/>
<text class="ax" x="42.5" y="568.6" text-anchor="end">5° N</text>
<text class="ax" x="988.8" y="568.6">5° N</text>
<rect class="b" x="204.3" y="74.7" width="37" height="24.2"/>
<text class="n" x="221.9" y="93.6">45</text>
<rect class="b" x="204.3" y="98.9" width="37" height="24.2"/>
<text class="n" x="221.9" y="117.8">35</text>
<rect class="b" x="204.3" y="123.1" width="37" height="24.2"/>
<text class="n" x="221.9" y="142.0">20</text>
<rect class="b" x="464.4" y="52.8" width="37" height="24.2"/>
<text class="n" x="482.0" y="72.6">33</text>
<rect class="b" x="464.4" y="77.0" width="37" height="24.2"/>
<text class="n" x="482.0" y="96.8">33</text>
<rect class="b" x="464.4" y="101.2" width="37" height="24.2"/>
<text class="n" x="482.0" y="121.0">33</text>
<rect class="b" x="558.6" y="158.3" width="37" height="24.2"/>
<text class="n" x="576.2" y="178.4">33</text>
<rect class="b" x="558.6" y="182.5" width="37" height="24.2"/>
<text class="n" x="576.2" y="202.6">33</text>
<rect class="b" x="558.6" y="206.7" width="37" height="24.2"/>
<text class="n" x="576.2" y="226.8">33</text>
<rect class="b" x="528.7" y="263.0" width="37" height="24.2"/>
<text class="n" x="546.3" y="282.8">33</text>
<rect class="b" x="528.7" y="287.2" width="37" height="24.2"/>
<text class="n" x="546.3" y="307.0">33</text>
<rect class="b" x="528.7" y="311.4" width="37" height="24.2"/>
<text class="n" x="546.3" y="331.2">33</text>
<rect class="b" x="396.4" y="269.4" width="37" height="24.2"/>
<text class="n" x="414.0" y="289.2">40</text>
<rect class="b" x="396.4" y="293.6" width="37" height="24.2"/>
<text class="n" x="414.0" y="313.4">35</text>
<rect class="b" x="396.4" y="317.8" width="37" height="24.2"/>
<text class="n" x="414.0" y="337.6">25</text>
<rect class="b" x="218.2" y="216.8" width="37" height="24.2"/>
<text class="n" x="235.8" y="236.6">50</text>
<rect class="b" x="218.2" y="241.0" width="37" height="24.2"/>
<text class="n" x="235.8" y="260.8">30</text>
<rect class="b" x="218.2" y="265.2" width="37" height="24.2"/>
<text class="n" x="235.8" y="285.0">20</text>
<rect class="b" x="144.3" y="288.9" width="37" height="24.2"/>
<text class="n" x="161.9" y="308.7">45</text>
<rect class="b" x="144.3" y="313.1" width="37" height="24.2"/>
<text class="n" x="161.9" y="332.9">35</text>
<rect class="b" x="144.3" y="337.3" width="37" height="24.2"/>
<text class="n" x="161.9" y="357.1">20</text>
<rect class="b" x="750.0" y="196.0" width="37" height="24.2"/>
<text class="n" x="767.6" y="215.8">50</text>
<rect class="b" x="750.0" y="220.2" width="37" height="24.2"/>
<text class="n" x="767.6" y="240.0">30</text>
<rect class="b" x="750.0" y="244.4" width="37" height="24.2"/>
<text class="n" x="767.6" y="264.2">20</text>
<rect class="b" x="789.4" y="293.4" width="37" height="24.2"/>
<text class="n" x="807.0" y="313.2">50</text>
<rect class="b" x="789.4" y="317.6" width="37" height="24.2"/>
<text class="n" x="807.0" y="337.4">30</text>
<rect class="b" x="789.4" y="341.8" width="37" height="24.2"/>
<text class="n" x="807.0" y="361.6">20</text>
<rect class="b" x="584.8" y="322.3" width="37" height="24.2"/>
<text class="n" x="602.4" y="342.1">45</text>
<rect class="b" x="584.8" y="346.5" width="37" height="24.2"/>
<text class="n" x="602.4" y="366.3">35</text>
<rect class="b" x="584.8" y="370.7" width="37" height="24.2"/>
<text class="n" x="602.4" y="390.5">20</text>
<rect class="b" x="652.5" y="433.4" width="37" height="24.2"/>
<text class="n" x="670.1" y="454.2">50</text>
<rect class="b" x="652.5" y="457.6" width="37" height="24.2"/>
<text class="n" x="670.1" y="478.4">30</text>
<rect class="b" x="652.5" y="481.8" width="37" height="24.2"/>
<text class="n" x="670.1" y="502.6">20</text>
<rect class="b" x="729.6" y="536.1" width="37" height="24.2"/>
<text class="n" x="747.2" y="555.9">40</text>
<rect class="b" x="729.6" y="560.3" width="37" height="24.2"/>
<text class="n" x="747.2" y="580.1">35</text>
<rect class="b" x="729.6" y="584.5" width="37" height="24.2"/>
<text class="n" x="747.2" y="604.3">25</text>
<rect class="b" x="927.4" y="510.3" width="37" height="24.2"/>
<text class="n" x="945.0" y="530.1">45</text>
<rect class="b" x="927.4" y="534.5" width="37" height="24.2"/>
<text class="n" x="945.0" y="554.3">35</text>
<rect class="b" x="927.4" y="558.7" width="37" height="24.2"/>
<text class="n" x="945.0" y="578.5">20</text>
<rect class="b" x="652.5" y="45.5" width="33.8" height="34.4"/>
<text class="s" x="669.4" y="70.0" font-size="20" text-anchor="middle">A</text>
<text class="s" x="692.6" y="70.3" font-size="20.5">% above-normal temperature</text>
<rect class="b" x="652.5" y="79.9" width="33.8" height="34.4"/>
<text class="s" x="669.4" y="104.4" font-size="20" text-anchor="middle">N</text>
<text class="s" x="692.6" y="104.7" font-size="20.5">% normal temperature</text>
<rect class="b" x="652.5" y="114.3" width="33.8" height="34.4"/>
<text class="s" x="669.4" y="138.8" font-size="20" text-anchor="middle">B</text>
<text class="s" x="692.6" y="139.1" font-size="20.5">% below-normal temperature</text>
<text x="317.8" y="524.2" font-size="29.7" font-weight="bold" text-anchor="middle" fill="#000">Mean Temperature Outlook</text>
<text x="318.3" y="560.5" font-size="29.7" font-weight="bold" text-anchor="middle" fill="#000">for the Caribbean</text>
<text class="s" x="318.5" y="590" font-size="24" text-anchor="middle" fill="#111">February - March - April - 2026</text>
<text class="sl" x="200.3" y="636.2" font-size="55.8" textLength="37" lengthAdjust="spacingAndGlyphs">C</text>
<text class="sl" x="238" y="636.2" font-size="42.7" textLength="71.5" lengthAdjust="spacingAndGlyphs">ARI</text>
<text class="sl" x="308.6" y="636.2" font-size="55.8" textLength="119" lengthAdjust="spacingAndGlyphs">COF</text>
<rect x="202" y="638.6" width="226" height="2.6" fill="#7470AE"/>
<text x="202" y="655.2" font-size="11.8" fill="#55558E" stroke="#55558E" stroke-width="0.35" textLength="226" lengthAdjust="spacingAndGlyphs">CARIBBEAN CLIMATE OUTLOOK FORUM</text>
<text class="lg" x="359.3" y="757.3" text-anchor="middle">Below-normal temp.</text>
<text class="lg" x="511.7" y="757.3" text-anchor="middle">Normal temp.</text>
<text class="lg" x="663.8" y="757.3" text-anchor="middle">Above-normal temp.</text>
<rect x="280.2" y="762.6" width="31.9" height="16.2" fill="#3D4B8C"/>
<rect x="312.0" y="762.6" width="31.9" height="16.2" fill="#5B6CB9"/>
<rect x="343.8" y="762.6" width="31.9" height="16.2" fill="#8E90D1"/>
<rect x="375.6" y="762.6" width="31.9" height="16.2" fill="#BDC1E6"/>
<rect x="407.4" y="762.6" width="31.9" height="16.2" fill="#E7EAF8"/>
<text class="lg" x="312.0" y="791.8" text-anchor="middle">70</text>
<text class="lg" x="343.1" y="791.8" text-anchor="middle">60</text>
<text class="lg" x="374.2" y="791.8" text-anchor="middle">50</text>
<text class="lg" x="405.3" y="791.8" text-anchor="middle">45</text>
<text class="lg" x="436.4" y="791.8" text-anchor="middle">40</text>
<rect x="495.8" y="763" width="32" height="15.6" fill="#C9C9CD" stroke="#aaa" stroke-width="0.8"/>
<text class="lg" x="511.5" y="791.8" text-anchor="middle">40</text>
<rect x="583.8" y="763" width="32.2" height="15.6" fill="#FDEAE2"/>
<rect x="615.8" y="763" width="32.2" height="15.6" fill="#FBC9B6"/>
<rect x="647.9" y="763" width="32.2" height="15.6" fill="#EF967C"/>
<rect x="679.9" y="763" width="32.2" height="15.6" fill="#D9644B"/>
<rect x="712.0" y="763" width="32.2" height="15.6" fill="#B83B2D"/>
<text class="lg" x="587.3" y="791.8" text-anchor="middle">40</text>
<text class="lg" x="618.3" y="791.8" text-anchor="middle">45</text>
<text class="lg" x="649.3" y="791.8" text-anchor="middle">50</text>
<text class="lg" x="680.3" y="791.8" text-anchor="middle">60</text>
<text class="lg" x="711.3" y="791.8" text-anchor="middle">70</text>
</svg></body></html>
